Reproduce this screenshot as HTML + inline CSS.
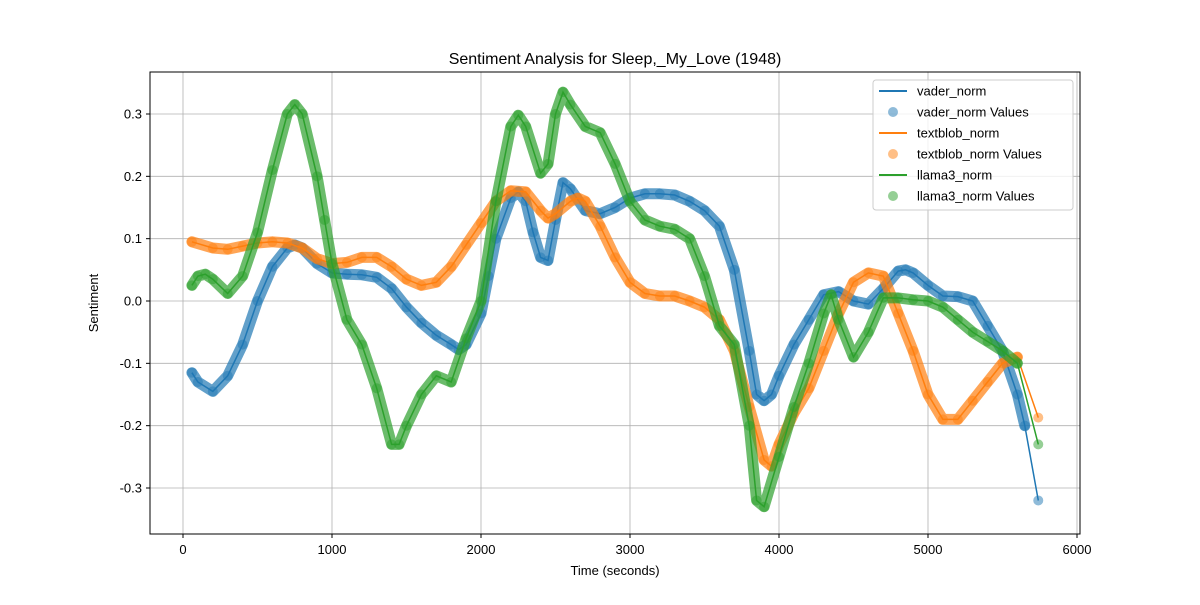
<!DOCTYPE html>
<html><head><meta charset="utf-8"><style>
body{margin:0;background:#fff;}
svg{font-family:"Liberation Sans","DejaVu Sans",sans-serif;}
</style></head><body>
<svg id="chart" width="1200" height="600" xmlns="http://www.w3.org/2000/svg">
<rect width="1200" height="600" fill="#fff"/>
<text x="615" y="64" font-size="16" text-anchor="middle">Sentiment Analysis for Sleep,_My_Love (1948)</text>
<g id="grid"></g>
<g id="series"></g>
<rect x="150" y="72" width="930" height="462" fill="none" stroke="#000" stroke-width="1"/>
<g id="ticks"></g>
<text x="615" y="575" font-size="13" text-anchor="middle">Time (seconds)</text>
<text transform="translate(98,303) rotate(-90)" font-size="13" text-anchor="middle">Sentiment</text>
<g id="legend"></g>
</svg>
<script>
const xTicks=[0,1000,2000,3000,4000,5000,6000];
const yTicks=[-0.3,-0.2,-0.1,0.0,0.1,0.2,0.3];
const vaderT=[60,100,200,300,400,500,600,700,750,800,900,1000,1100,1200,1300,1400,1500,1600,1700,1800,1850,1900,2000,2050,2100,2200,2250,2300,2350,2400,2450,2500,2550,2600,2700,2800,2900,3000,3100,3200,3300,3400,3500,3600,3700,3800,3850,3900,3950,4000,4100,4200,4300,4400,4500,4600,4700,4800,4850,4900,5000,5100,5200,5300,5400,5500,5600,5650,5740];
const vaderV=[-0.115,-0.13,-0.145,-0.12,-0.07,0.0,0.055,0.085,0.09,0.085,0.06,0.045,0.043,0.042,0.038,0.02,-0.01,-0.035,-0.055,-0.07,-0.078,-0.07,-0.02,0.04,0.1,0.165,0.175,0.16,0.11,0.07,0.065,0.13,0.19,0.18,0.145,0.14,0.15,0.165,0.172,0.172,0.17,0.16,0.145,0.12,0.05,-0.08,-0.15,-0.16,-0.15,-0.12,-0.07,-0.03,0.01,0.015,0.0,-0.005,0.02,0.048,0.05,0.045,0.025,0.008,0.007,0.0,-0.04,-0.08,-0.15,-0.2,-0.32];
const blobT=[60,200,300,400,500,600,700,800,900,1000,1100,1200,1300,1400,1500,1600,1700,1800,1900,2000,2100,2200,2300,2400,2450,2500,2600,2650,2700,2800,2900,3000,3100,3200,3300,3400,3500,3600,3700,3800,3900,3950,4000,4100,4200,4300,4400,4500,4600,4700,4800,4900,5000,5100,5200,5300,5400,5500,5600,5740];
const blobV=[0.095,0.085,0.083,0.088,0.093,0.095,0.093,0.085,0.068,0.06,0.062,0.07,0.07,0.055,0.035,0.025,0.03,0.055,0.09,0.125,0.16,0.177,0.175,0.145,0.133,0.14,0.16,0.165,0.16,0.12,0.07,0.03,0.012,0.008,0.008,0.0,-0.01,-0.03,-0.08,-0.17,-0.255,-0.265,-0.23,-0.18,-0.14,-0.08,-0.02,0.03,0.045,0.04,-0.02,-0.08,-0.15,-0.19,-0.19,-0.16,-0.13,-0.1,-0.09,-0.187];
const llamaT=[60,100,150,200,300,400,500,600,700,750,800,900,950,1000,1100,1200,1300,1400,1450,1500,1600,1700,1800,1900,2000,2100,2200,2250,2300,2400,2450,2500,2550,2600,2700,2800,2900,3000,3100,3200,3300,3400,3500,3600,3700,3800,3850,3900,4000,4100,4200,4300,4350,4400,4500,4600,4700,4800,4900,5000,5100,5200,5300,5400,5500,5600,5740];
const llamaV=[0.025,0.04,0.043,0.035,0.012,0.04,0.11,0.21,0.3,0.315,0.3,0.2,0.13,0.06,-0.03,-0.07,-0.14,-0.23,-0.23,-0.2,-0.15,-0.12,-0.13,-0.06,0.0,0.16,0.28,0.298,0.28,0.205,0.22,0.3,0.335,0.315,0.28,0.27,0.22,0.16,0.13,0.12,0.115,0.1,0.04,-0.04,-0.07,-0.2,-0.32,-0.33,-0.25,-0.17,-0.1,-0.02,0.01,-0.03,-0.09,-0.05,0.005,0.005,0.002,0.0,-0.01,-0.03,-0.05,-0.065,-0.08,-0.1,-0.23];
const NS="http://www.w3.org/2000/svg";
const xs=v=>183+v*(1077-183)/6000;
const ys=v=>301-v*(301-114)/0.3;
function mk(tag,attrs,parent){const e=document.createElementNS(NS,tag);for(const k in attrs)e.setAttribute(k,attrs[k]);parent.appendChild(e);return e;}
const grid=document.getElementById('grid'),ticks=document.getElementById('ticks'),ser=document.getElementById('series'),leg=document.getElementById('legend');
xTicks.forEach(t=>{const x=xs(t);
 const g=mk('line',{x1:x,x2:x,y1:72,y2:534,stroke:'#b0b0b0','stroke-width':0.8},grid);
 
 
 mk('line',{x1:x,x2:x,y1:534,y2:538,stroke:'#000'},ticks);
 const l=mk('text',{x:x,y:554,'font-size':13,'text-anchor':'middle'},ticks);l.textContent=t;
 
 });
yTicks.forEach(t=>{const y=ys(t);
 const g=mk('line',{x1:150,x2:1080,y1:y,y2:y,stroke:'#b0b0b0','stroke-width':0.8},grid);
 
 
 mk('line',{x1:146,x2:150,y1:y,y2:y,stroke:'#000'},ticks);
 const l=mk('text',{x:142,y:y+4.5,'font-size':13,'text-anchor':'end'},ticks);l.textContent=t.toFixed(1);
 
 });
function series(T,V,color,name){
 const pts=T.map((t,i)=>xs(t).toFixed(1)+','+ys(V[i]).toFixed(1));
 const d='M'+pts.join('L');
 const dBand='M'+pts.slice(0,-1).join('L');
 const band=mk('path',{d:dBand,fill:'none',stroke:color,'stroke-width':11,'stroke-opacity':0.7,'stroke-linecap':'round','stroke-linejoin':'round'},ser);
 
 
 T.forEach((t,i)=>{const c=mk('circle',{cx:xs(t),cy:ys(V[i]),r:5,fill:color,'fill-opacity':0.5},ser);
  
  });
 const p=mk('path',{d:d,fill:'none',stroke:color,'stroke-width':1.5},ser);
 
 
}
series(vaderT,vaderV,'#1f77b4','vader');
series(blobT,blobV,'#ff7f0e','textblob');
series(llamaT,llamaV,'#2ca02c','llama3');
mk('rect',{x:873,y:80,width:200,height:130,fill:'#fff','fill-opacity':0.8,stroke:'#ccc',rx:3},leg);
const entries=[['vader_norm','#1f77b4',0],['vader_norm Values','#1f77b4',1],['textblob_norm','#ff7f0e',0],['textblob_norm Values','#ff7f0e',1],['llama3_norm','#2ca02c',0],['llama3_norm Values','#2ca02c',1]];
entries.forEach((e,i)=>{const y=91+i*21;
 if(e[2])mk('circle',{cx:893,cy:y,r:5,fill:e[1],'fill-opacity':0.5},leg);
 else mk('line',{x1:879,x2:907,y1:y,y2:y,stroke:e[1],'stroke-width':2},leg);
 const t=mk('text',{x:917,y:y+4.5,'font-size':13},leg);t.textContent=e[0];
 
 });
</script>
</body></html>
